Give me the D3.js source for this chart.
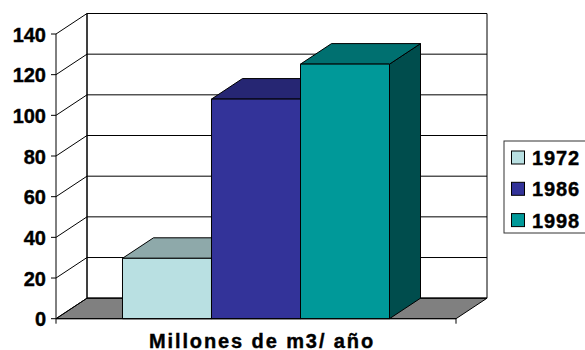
<!DOCTYPE html>
<html>
<head>
<meta charset="utf-8">
<script src="https://cdn.jsdelivr.net/npm/d3@7.9.0/dist/d3.min.js"></script>
<style>
  html, body { margin: 0; padding: 0; background: #fff; }
  svg { display: block; font-family: "Liberation Sans", Arial, sans-serif; }
  text { stroke: #000; stroke-width: 0.4px; }
</style>
</head>
<body>
<svg id="chart" width="585" height="350"></svg>
<script>
// chart data
const category = 'Millones de m3/ año';
const seriesNames = ['1972', '1986', '1998'];
const seriesValues = [29.7, 108, 125.2];
const yTicks = [0, 20, 40, 60, 80, 100, 120, 140];

// face colours: front, top, side
const frontColors = ['#b9e0e2', '#333399', '#009999'];
const topColors = ['#8ea9aa', '#262673', '#007070'];
const sideColors = ['#6a8a8b', '#1a1a55', '#004d4d'];

const svg = d3.select('#chart');

// 3d depth offset
const dx = 31, dy = -20.5;

const y = d3.scaleLinear().domain([0, 140]).range([318.7, 34]);
const x0 = d3.scaleBand().domain([category]).range([56, 456]).paddingInner(0).paddingOuter(0.249);
const x1 = d3.scaleBand().domain(seriesNames).range([0, x0.bandwidth()]).padding(0);

const [xl, xr] = x0.range();
const y0 = y(0), yTop = y(140);

const pts = (arr) => arr.map(p => p.join(',')).join(' ');

// back wall
svg.append('polygon')
  .attr('points', pts([[xl + dx, yTop + dy], [xr + dx, yTop + dy], [xr + dx, y0 + dy], [xl + dx, y0 + dy]]))
  .attr('fill', '#fff').attr('stroke', '#000').attr('stroke-width', 1);

// floor
svg.append('polygon')
  .attr('points', pts([[xl, y0], [xr, y0], [xr + dx, y0 + dy], [xl + dx, y0 + dy]]))
  .attr('fill', '#808080').attr('stroke', '#000').attr('stroke-width', 1);

// grid lines on back wall and side wall
yTicks.forEach(v => {
  svg.append('line')
    .attr('x1', xl + dx).attr('x2', xr + dx)
    .attr('y1', y(v) + dy).attr('y2', y(v) + dy)
    .attr('stroke', '#000').attr('stroke-width', 1);
  svg.append('line')
    .attr('x1', xl).attr('x2', xl + dx)
    .attr('y1', y(v)).attr('y2', y(v) + dy)
    .attr('stroke', '#000').attr('stroke-width', 1);
});

// side wall back edge
svg.append('line')
  .attr('x1', xl + dx).attr('x2', xl + dx)
  .attr('y1', yTop + dy).attr('y2', y0 + dy)
  .attr('stroke', '#000');

// bars, drawn left to right so the next one hides the previous side
seriesNames.forEach((name, i) => {
  const bx = x0(category) + x1(name);
  const bw = x1.bandwidth();
  const by = y(seriesValues[i]);
  const g = svg.append('g').attr('stroke', '#000').attr('stroke-width', 1).attr('stroke-linejoin', 'round');
  g.append('polygon')
    .attr('points', pts([[bx + bw, by], [bx + bw + dx, by + dy], [bx + bw + dx, y0 + dy], [bx + bw, y0]]))
    .attr('fill', sideColors[i]);
  g.append('polygon')
    .attr('points', pts([[bx, by], [bx + dx, by + dy], [bx + bw + dx, by + dy], [bx + bw, by]]))
    .attr('fill', topColors[i]);
  g.append('rect')
    .attr('x', bx).attr('y', by)
    .attr('width', bw).attr('height', y0 - by)
    .attr('fill', frontColors[i]);
});

// y axis
svg.append('line')
  .attr('x1', xl).attr('x2', xl).attr('y1', yTop).attr('y2', y0)
  .attr('stroke', '#000');
yTicks.forEach(v => {
  svg.append('line')
    .attr('x1', xl - 5).attr('x2', xl).attr('y1', y(v)).attr('y2', y(v))
    .attr('stroke', '#000');
  svg.append('text')
    .attr('x', 46).attr('y', y(v) + 7.5)
    .attr('text-anchor', 'end')
    .attr('font-size', 20).attr('font-weight', 'bold')
    .text(v);
});

// x axis
svg.append('line')
  .attr('x1', xl).attr('x2', xr).attr('y1', y0).attr('y2', y0)
  .attr('stroke', '#000');
[xl, xr].forEach(xv => {
  svg.append('line')
    .attr('x1', xv).attr('x2', xv).attr('y1', y0).attr('y2', y0 + 5)
    .attr('stroke', '#000');
});
svg.append('text')
  .attr('x', 262).attr('y', 347.5)
  .attr('text-anchor', 'middle')
  .attr('font-size', 20).attr('font-weight', 'bold')
  .attr('letter-spacing', 1.9)
  .text(category);

// legend
const legend = svg.append('g');
legend.append('rect')
  .attr('x', 504).attr('y', 141).attr('width', 90).attr('height', 92)
  .attr('fill', '#fff').attr('stroke', '#333').attr('stroke-width', 1);
seriesNames.forEach((name, i) => {
  const cy = 157.5 + i * 31.3;
  legend.append('rect')
    .attr('x', 511.5).attr('y', cy - 6.5).attr('width', 13).attr('height', 13)
    .attr('fill', frontColors[i]).attr('stroke', '#000').attr('stroke-width', 1);
  legend.append('text')
    .attr('x', 532).attr('y', cy + 7.5)
    .attr('font-size', 20).attr('font-weight', 'bold')
    .attr('letter-spacing', 0.9)
    .text(name);
});
</script>
</body>
</html>
